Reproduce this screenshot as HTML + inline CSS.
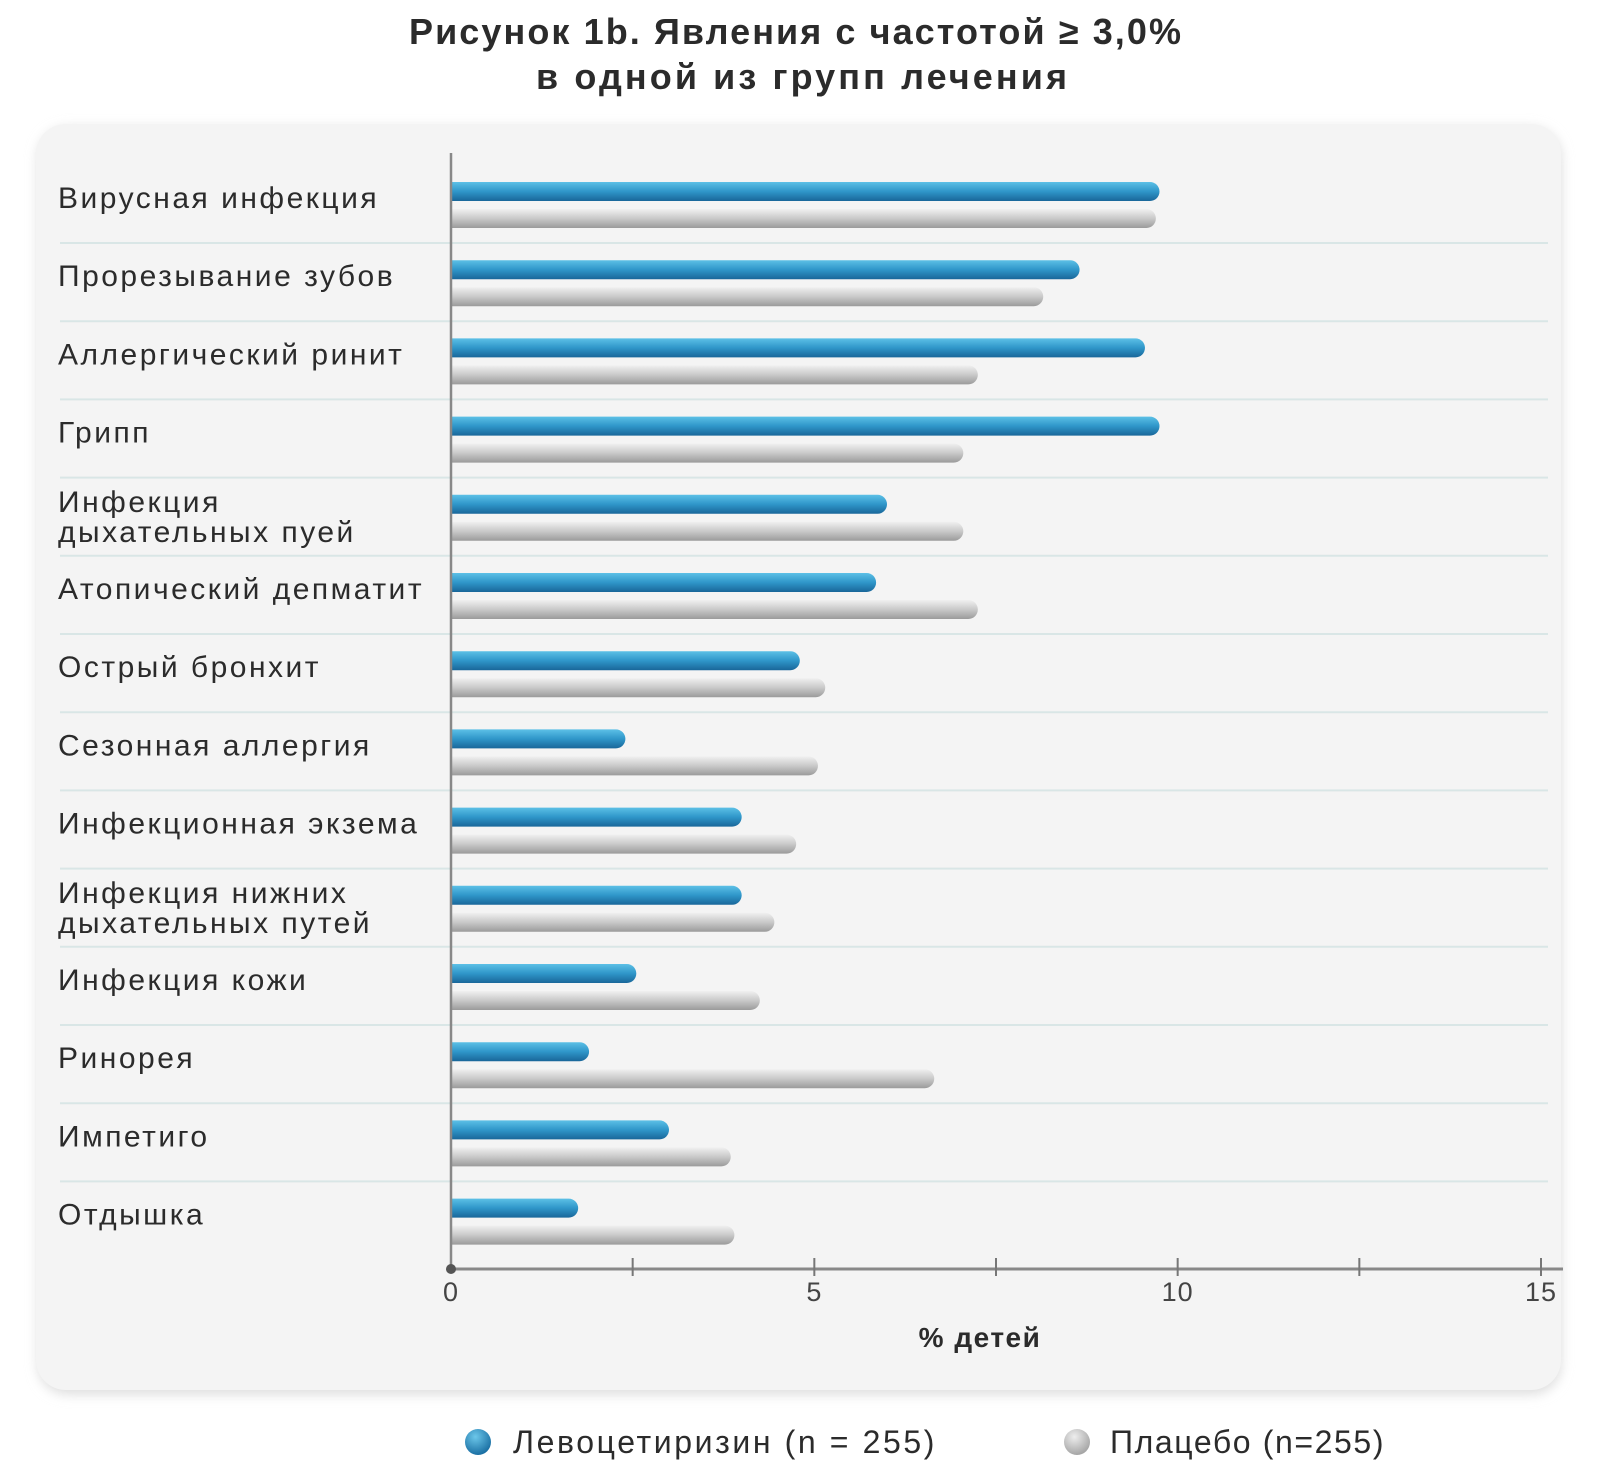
<!DOCTYPE html>
<html><head><meta charset="utf-8"><style>
html,body{margin:0;padding:0;background:#fff;}
svg{display:block;font-family:"Liberation Sans",sans-serif;}
</style></head><body>
<svg id="chart" width="1600" height="1483" viewBox="0 0 1600 1483">
<defs>
<linearGradient id="gBlue" x1="0" y1="0" x2="0" y2="1"><stop offset="0" stop-color="#5cc0e6"/><stop offset="0.5" stop-color="#2f96c9"/><stop offset="1" stop-color="#19679a"/></linearGradient>
<linearGradient id="gGray" x1="0" y1="0" x2="0" y2="1"><stop offset="0" stop-color="#f0f0f0"/><stop offset="0.5" stop-color="#c9c9c9"/><stop offset="1" stop-color="#9b9b9b"/></linearGradient>
<radialGradient id="dBlue" cx="0.4" cy="0.3" r="0.7"><stop offset="0" stop-color="#6cc7ea"/><stop offset="1" stop-color="#1a6fa3"/></radialGradient>
<radialGradient id="dGray" cx="0.4" cy="0.3" r="0.7"><stop offset="0" stop-color="#eeeeee"/><stop offset="1" stop-color="#a5a5a5"/></radialGradient>
<filter id="sh" x="-5%" y="-5%" width="110%" height="110%"><feGaussianBlur stdDeviation="6"/></filter>
</defs>
<text x="409" y="44" textLength="772" lengthAdjust="spacing" font-size="36" font-weight="bold" fill="#2b2b2b">Рисунок 1b. Явления с частотой ≥ 3,0%</text>
<text x="536" y="89" textLength="531" lengthAdjust="spacing" font-size="36" font-weight="bold" fill="#2b2b2b">в одной из групп лечения</text>
<rect x="38" y="128" width="1523" height="1266" rx="30" fill="#dcdcdc" filter="url(#sh)"/>
<rect x="36" y="124" width="1525" height="1266" rx="30" fill="#f4f4f4"/>
<g id="grid"></g>
<g id="bars"></g>
<g id="labels"></g>
<g id="axes"></g>
<text x="980" y="1347" text-anchor="middle" font-size="28" font-weight="bold" letter-spacing="1.5" fill="#2b2b2b">% детей</text>
<circle cx="478" cy="1442" r="13" fill="url(#dBlue)"/>
<text x="513" y="1453" font-size="32" letter-spacing="2.6" fill="#2b2b2b">Левоцетиризин (n = 255)</text>
<circle cx="1077" cy="1442" r="13" fill="url(#dGray)"/>
<text x="1110" y="1453" font-size="32" letter-spacing="1.6" fill="#2b2b2b">Плацебо (n=255)</text>
</svg>
<script>
const categories = [["Вирусная инфекция"],["Прорезывание зубов"],["Аллергический ринит"],["Грипп"],["Инфекция","дыхательных пуей"],["Атопический депматит"],["Острый бронхит"],["Сезонная аллергия"],["Инфекционная экзема"],["Инфекция нижних","дыхательных путей"],["Инфекция кожи"],["Ринорея"],["Импетиго"],["Отдышка"]];
const levocetirizine = [9.75,8.65,9.55,9.75,6.0,5.85,4.8,2.4,4.0,4.0,2.55,1.9,3.0,1.75];
const placebo = [9.7,8.15,7.25,7.05,7.05,7.25,5.15,5.05,4.75,4.45,4.25,6.65,3.85,3.9];
const xTicks = [0,5,10,15];
const xMinor = [2.5,7.5,12.5];

const NS="http://www.w3.org/2000/svg";
const X0=451, X1=1541, XMAX=15;
const x = v => X0 + (v/XMAX)*(X1-X0);
const ROW0=205, STEP=78.2;
const rowMid = i => ROW0 + i*STEP;
function mk(tag, attrs, parent){const e=document.createElementNS(NS,tag);for(const k in attrs)e.setAttribute(k,attrs[k]);parent.appendChild(e);return e;}
const gGrid=document.getElementById('grid'), gBars=document.getElementById('bars'), gLab=document.getElementById('labels'), gAx=document.getElementById('axes');
const BH=19;
function barPath(x0,x1,y,h){const r=Math.min(h/2,(x1-x0)/2);return `M${x0},${y}H${x1-r}A${r},${r} 0 0 1 ${x1-r},${y+h}H${x0}Z`;}
categories.forEach((c,i)=>{
  const m=rowMid(i);
  if(i<categories.length-1){
    const ln=mk('line',{x1:60,x2:1548,y1:m+38,y2:m+38,stroke:'#d9e6e6','stroke-width':2},gGrid);
    
    
  }
  const b=mk('path',{d:barPath(x(0),x(levocetirizine[i]),m-23,BH),fill:'url(#gBlue)'},gBars);
  
  
  const p=mk('path',{d:barPath(x(0),x(placebo[i]),m+4,BH),fill:'url(#gGray)'},gBars);
  
  
  const t=mk('text',{x:58,'font-size':30,'letter-spacing':2.5,fill:'#2b2b2b'},gLab);
  
  
  if(c.length===1){
    t.setAttribute('y',m+3);
    t.textContent=c[0];
  } else {
    c.forEach((s,j)=>{const ts=mk('tspan',{x:58,y:m-6+j*30},t);ts.textContent=s;});
  }
});
const va=mk('line',{x1:X0,x2:X0,y1:153,y2:1269,stroke:'#888','stroke-width':2.5},gAx);


const ha=mk('line',{x1:X0,x2:1563,y1:1269,y2:1269,stroke:'#888','stroke-width':3},gAx);


const dot=mk('circle',{cx:X0,cy:1269,r:5,fill:'#555'},gAx);


xTicks.concat(xMinor).forEach(v=>{
  if(v===0)return;
  const tk=mk('line',{x1:x(v),x2:x(v),y1:1258,y2:1276,stroke:'#777','stroke-width':2},gAx);
  
  
});
xTicks.forEach(v=>{
  const t=mk('text',{x:x(v),y:1301,'text-anchor':'middle','font-size':27,'letter-spacing':1,fill:'#444'},gAx);
  
  
  t.textContent=v;
});
</script>
</body></html>
